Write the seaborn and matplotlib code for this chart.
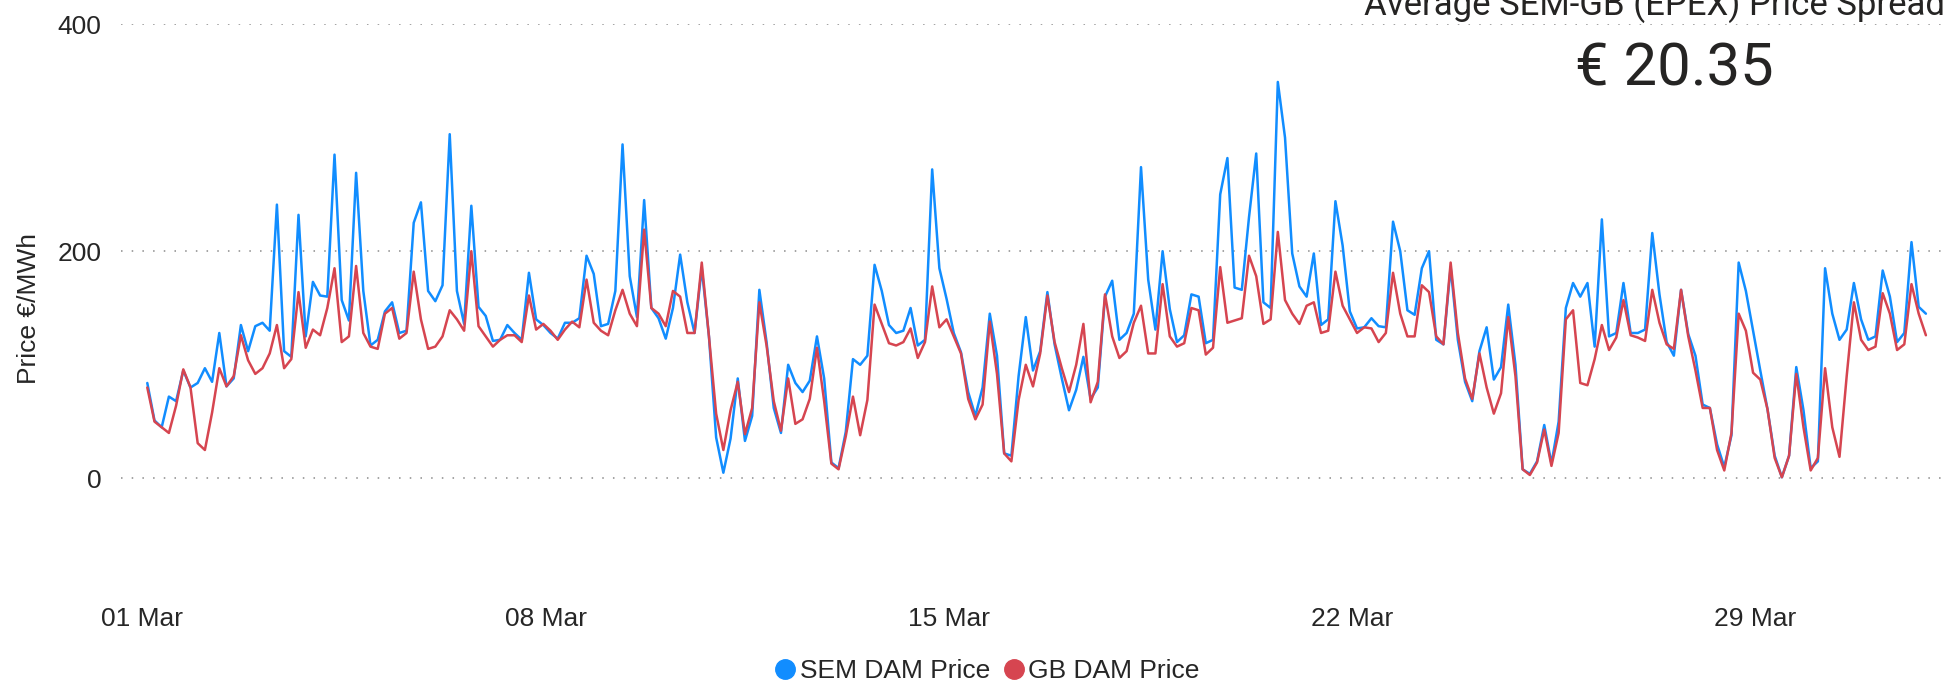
import pandas as pd
import matplotlib
matplotlib.use('Agg')
import matplotlib.pyplot as plt
import matplotlib.dates as mdates
from matplotlib.lines import Line2D
import seaborn as sns

# prices every 3 hours, 01 Mar 02:00 -> 31 Mar 23:00 (8 values a day)
sem_price = [
    84, 51, 45, 72, 68, 95, 80, 84,         # 01 Mar
    97, 85, 128, 81, 88, 135, 112, 134,
    137, 130, 241, 112, 107, 232, 125, 173,
    161, 160, 285, 157, 139, 269, 165, 117,
    122, 147, 155, 128, 130, 225, 243, 165,
    156, 170, 303, 165, 136, 240, 151, 143,
    121, 122, 135, 128, 122, 181, 140, 135,
    128, 123, 137, 137, 141, 196, 180, 134,  # 08 Mar
    136, 165, 294, 178, 142, 245, 150, 141,
    123, 150, 197, 155, 128, 185, 125, 36,
    5, 35, 88, 33, 55, 166, 120, 62,
    40, 100, 84, 76, 86, 125, 88, 14,
    9, 41, 105, 100, 108, 188, 165, 135,
    128, 130, 150, 117, 122, 272, 185, 158,
    128, 111, 76, 55, 80, 145, 108, 22,      # 15 Mar
    20, 90, 142, 95, 112, 164, 118, 88,
    60, 78, 107, 70, 80, 160, 174, 122,
    128, 145, 274, 175, 131, 200, 149, 120,
    126, 162, 160, 119, 122, 250, 282, 168,
    166, 230, 286, 155, 150, 349, 300, 198,
    169, 160, 198, 135, 140, 244, 205, 147,
    132, 133, 141, 134, 133, 226, 200, 148,  # 22 Mar
    144, 185, 200, 122, 118, 186, 122, 85,
    68, 112, 133, 87, 98, 153, 100, 8,
    4, 15, 47, 13, 50, 150, 172, 160,
    172, 116, 228, 125, 128, 172, 128, 128,
    131, 216, 162, 120, 108, 166, 127, 108,
    65, 62, 30, 10, 38, 190, 165, 130,
    95, 61, 20, 1, 20, 98, 60, 9,            # 29 Mar
    15, 185, 145, 122, 131, 172, 140, 122,
    125, 183, 160, 120, 128, 208, 151, 145,
]
gb_price = [
    80, 50, 45, 40, 64, 96, 80, 31,
    25, 58, 97, 81, 90, 126, 104, 92,
    97, 110, 135, 97, 105, 164, 115, 131,
    126, 150, 185, 120, 125, 187, 128, 116,
    114, 145, 150, 123, 128, 182, 140, 114,
    116, 125, 148, 140, 130, 200, 134, 125,
    116, 122, 126, 126, 120, 161, 131, 136,
    130, 122, 131, 138, 133, 175, 137, 130,
    126, 148, 166, 145, 134, 219, 150, 145,
    134, 165, 160, 128, 128, 190, 125, 57,
    25, 60, 85, 39, 62, 155, 117, 68,
    42, 88, 48, 52, 70, 115, 68, 13,
    8, 37, 72, 38, 69, 153, 136, 119,
    117, 120, 132, 106, 120, 169, 133, 140,
    125, 110, 70, 52, 65, 138, 92, 22,
    15, 69, 100, 81, 110, 161, 120, 97,
    76, 100, 136, 67, 85, 162, 125, 106,
    112, 137, 152, 110, 110, 171, 125, 116,
    119, 150, 148, 109, 115, 186, 137, 139,
    141, 196, 178, 136, 140, 217, 157, 145,
    136, 152, 155, 128, 130, 182, 152, 140,
    128, 133, 132, 120, 128, 181, 145, 125,
    125, 170, 164, 125, 118, 190, 128, 88,
    70, 110, 80, 57, 75, 142, 90, 8,
    3, 14, 43, 11, 40, 140, 148, 84,
    82, 105, 135, 113, 124, 157, 126, 124,
    121, 166, 137, 118, 114, 166, 125, 95,
    62, 62, 25, 7, 40, 145, 130, 93,
    87, 61, 18, 1, 20, 92, 45, 7,
    18, 97, 45, 19, 90, 155, 122, 113,
    116, 163, 145, 113, 118, 171, 145, 126,
]
series_names = ['SEM DAM Price', 'GB DAM Price']
series_colors = ['#118DFF', '#D64550']
tick_days = ['2023-03-01', '2023-03-08', '2023-03-15', '2023-03-22', '2023-03-29']
spread_title = 'Average SEM-GB (EPEX) Price Spread'
spread_value = '€ 20.35'

times = pd.date_range('2023-03-01 02:00', periods=len(sem_price), freq='3h')
df = pd.DataFrame({'time': times, series_names[0]: sem_price, series_names[1]: gb_price})
df = df.melt(id_vars='time', var_name='series', value_name='price')

sns.set_style('white')
plt.rcParams['font.family'] = ['Liberation Sans', 'DejaVu Sans']

W, H = 1945, 681
fig = plt.figure(figsize=(W / 100, H / 100), dpi=100)
# plot area in pixels: left 121, top 24 (=400), bottom 592 (=-100)
ax = fig.add_axes([121 / W, 1 - 592 / H, 1 - 121 / W, (592 - 24) / H])

sns.lineplot(data=df, x='time', y='price', hue='series', hue_order=series_names,
             palette=dict(zip(series_names, series_colors)), linewidth=1.8,
             legend=False, ax=ax)

start = mdates.date2num(pd.Timestamp('2023-03-01'))
ax.set_xlim(start - 0.373, start + 31.29)
ax.set_ylim(-100, 400)
ax.set_yticks([0, 200, 400])
ax.set_xticks([pd.Timestamp(d) for d in tick_days])
ax.xaxis.set_major_formatter(mdates.DateFormatter('%d %b'))
ax.tick_params(axis='x', length=0, labelsize=19, pad=11)
ax.tick_params(axis='y', length=0, labelsize=19, pad=14)
ax.yaxis.grid(True, linestyle=(0, (1, 6)), color='#8a8a8a', linewidth=1.1)
ax.xaxis.grid(False)
for s in ax.spines.values():
    s.set_visible(False)
ax.set_xlabel('')
ax.set_ylabel('Price €/MWh', fontsize=19)
ax.yaxis.set_label_coords(-0.044, 0.5)

# card text in the top right corner
fig.text(1364 / W, 1 - 15 / H, spread_title, family='Roboto', fontsize=25,
         color='#252423', ha='left', va='baseline')
fig.text(1575 / W, 1 - 86 / H, spread_value, family='Roboto', fontsize=43,
         color='#252423', ha='left', va='baseline')

handles = [Line2D([], [], marker='o', linestyle='', markersize=14, color=c) for c in series_colors]
fig.legend(handles, series_names, loc='center', bbox_to_anchor=(987 / W, 1 - 671 / H),
           ncol=2, frameon=False, fontsize=19, handlelength=0.8, handletextpad=0.15,
           columnspacing=0.5, borderaxespad=0, borderpad=0)

plt.savefig('out.png', dpi=100)
